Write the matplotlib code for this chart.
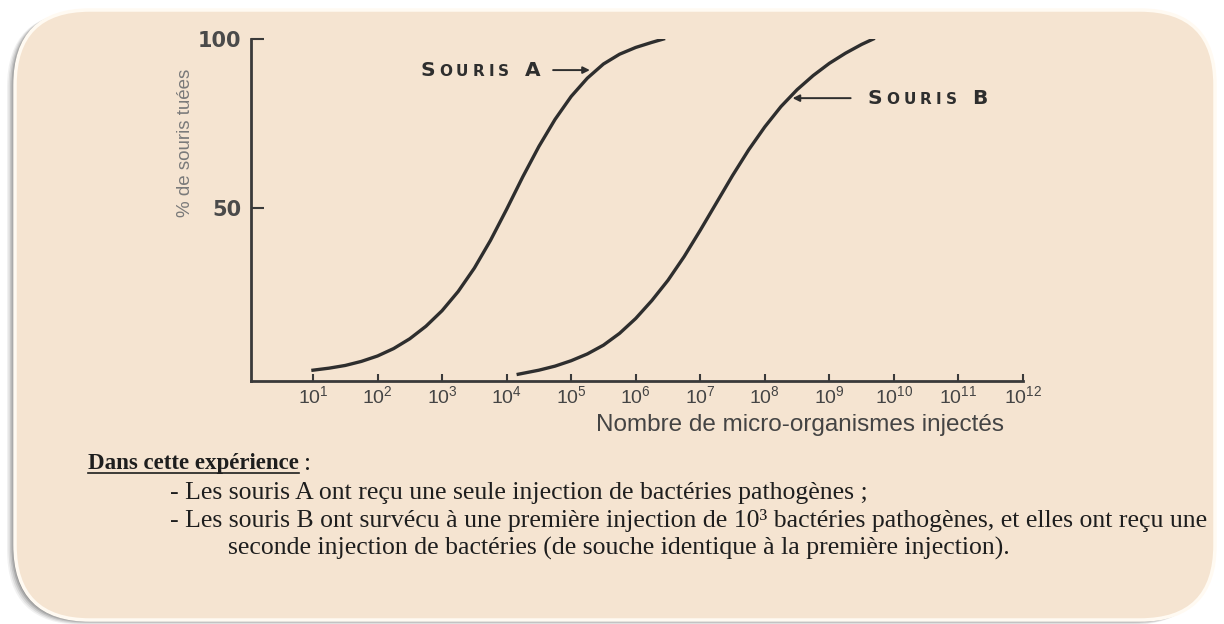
import matplotlib

matplotlib.use("Agg")
import matplotlib.pyplot as plt
import numpy as np
from matplotlib.lines import Line2D
from matplotlib.offsetbox import AnnotationBbox, HPacker, TextArea
from matplotlib.patches import FancyBboxPatch
from matplotlib.ticker import NullLocator
from matplotlib.transforms import IdentityTransform

# values: log10(dose) and % of mice killed
souris_a_log = [1.00, 1.25, 1.50, 1.75, 2.00, 2.25, 2.50, 2.75, 3.00, 3.25, 3.50, 3.75,
                4.00, 4.25, 4.50, 4.75, 5.00, 5.25, 5.50, 5.75, 6.00, 6.25, 6.43]
souris_a_pct = [2.0, 2.6, 3.4, 4.6, 6.2, 8.4, 11.3, 15.0, 19.6, 25.3, 32.2, 40.4,
                49.6, 59.2, 68.2, 76.2, 83.0, 88.4, 92.6, 95.5, 97.5, 99.0, 100.0]
souris_b_log = [4.18, 4.50, 4.75, 5.00, 5.25, 5.50, 5.75, 6.00, 6.25, 6.50, 6.75, 7.00,
                7.25, 7.50, 7.75, 8.00, 8.25, 8.50, 8.75, 9.00, 9.25, 9.50, 9.68]
souris_b_pct = [0.8, 2.0, 3.2, 4.8, 6.8, 9.4, 12.9, 17.3, 22.6, 28.6, 35.6, 43.4,
                51.5, 59.6, 67.2, 74.0, 80.0, 85.0, 89.2, 92.8, 95.8, 98.4, 100.0]
tick_exp = list(range(1, 13))
ytick_vals = [50, 100]

texte_titre = "Dans cette expérience"
texte_lignes = [
    "- Les souris A ont reçu une seule injection de bactéries pathogènes ;",
    "- Les souris B ont survécu à une première injection de 10³ bactéries pathogènes, et elles ont reçu une",
    "seconde injection de bactéries (de souche identique à la première injection).",
]

BG = "#f5e4d1"
INK = "#2e2e2e"
W, H = 1224, 624

fig = plt.figure(figsize=(W / 100, H / 100), dpi=100)
fig.patch.set_facecolor("white")

# rounded panel with a soft shadow (bottom-left)
for k, a in enumerate([0.08, 0.12, 0.17, 0.24, 0.32]):
    d = 8 - k * 1.5
    sh = FancyBboxPatch(
        (15 - d, 4 - d * 0.6), 1200, 610 + d * 0.3,
        boxstyle="round,pad=0,rounding_size=75",
        transform=IdentityTransform(), facecolor="#555555", edgecolor="none", alpha=a,
        zorder=-3,
    )
    fig.patches.append(sh)
panel = FancyBboxPatch(
    (15, 4), 1200, 610, boxstyle="round,pad=0,rounding_size=75",
    transform=IdentityTransform(), facecolor=BG, edgecolor="#fffaf2", linewidth=2.5,
    zorder=-2,
)
fig.patches.append(panel)

# --- chart
ax = fig.add_axes([251 / W, 1 - 381 / H, 772 / W, 342 / H])
ax.set_facecolor("none")
ax.set_xscale("log")
ax.set_xlim(10**0.04, 10**12)
ax.set_ylim(-1.2, 100)

ax.plot(10 ** np.array(souris_a_log), souris_a_pct, color=INK, lw=2.4)
ax.plot(10 ** np.array(souris_b_log), souris_b_pct, color=INK, lw=2.4)

for side in ["top", "right"]:
    ax.spines[side].set_visible(False)
for side in ["left", "bottom"]:
    ax.spines[side].set_color("#3a3a3a")
    ax.spines[side].set_linewidth(2.0)

ax.xaxis.set_minor_locator(NullLocator())
ax.set_xticks([10.0**e for e in tick_exp])
ax.set_xticklabels([f"$\\mathdefault{{10^{{{e}}}}}$" for e in tick_exp])
ax.set_yticks(ytick_vals)
ax.set_yticklabels([str(v) for v in ytick_vals])
ax.tick_params(axis="x", direction="in", length=5, width=1.5, pad=3,
               labelsize=14, labelcolor="#444444", color="#3a3a3a")
ax.tick_params(axis="y", direction="in", length=9, width=1.5, pad=7,
               labelsize=15, labelcolor="#4a4a4a", color="#3a3a3a")
for lab in ax.get_xticklabels():
    lab.set_fontfamily("Liberation Sans")
for lab in ax.get_yticklabels():
    lab.set_fontfamily("DejaVu Sans")
    lab.set_fontweight("bold")

fig.text(186 / W, 1 - 143 / H, "% de souris tuées", rotation=90, ha="center", va="center",
         color="#7a7a7a", fontsize=13.5, family="Liberation Sans")
fig.text(800 / W, 1 - 425 / H, "Nombre de micro-organismes injectés", ha="center", va="center",
         color="#444444", fontsize=17.5, family="Liberation Sans")


def small_caps(word_parts):
    boxes = []
    for ch, big in word_parts:
        boxes.append(TextArea(ch, textprops=dict(fontsize=14.5 if big else 11, fontweight="bold",
                                                 color=INK, family="DejaVu Sans")))
    return HPacker(children=boxes, sep=3, pad=0, align="baseline")


lab_a = small_caps([("S", True), ("O", False), ("U", False), ("R", False), ("I", False),
                    ("S", False), (" ", True), ("A", True)])
lab_b = small_caps([("S", True), ("O", False), ("U", False), ("R", False), ("I", False),
                    ("S", False), (" ", True), ("B", True)])
ax.add_artist(AnnotationBbox(lab_a, (10**4.52, 90.8), box_alignment=(1, 0.5), frameon=False))
ax.add_artist(AnnotationBbox(lab_b, (10**9.59, 82.5), box_alignment=(0, 0.5), frameon=False))

arrow = dict(arrowstyle="-|>", color=INK, lw=1.4, mutation_scale=10, shrinkA=0, shrinkB=0)
ax.annotate("", xy=(10**5.29, 90.8), xytext=(10**4.72, 90.8), arrowprops=arrow)
ax.annotate("", xy=(10**8.43, 82.5), xytext=(10**9.33, 82.5), arrowprops=arrow)

# --- text below the chart
serif = dict(family="Liberation Serif", color="#1e1e1e", fontsize=18.5, va="center")
t0 = fig.text(88 / W, 1 - 464 / H, texte_titre, fontweight="bold",
              **{**serif, "fontsize": 16.5})
fig.text(170 / W, 1 - 493 / H, texte_lignes[0], **serif)
fig.text(170 / W, 1 - 521 / H, texte_lignes[1], **serif)
fig.text(228 / W, 1 - 548 / H, texte_lignes[2], **serif)

renderer = fig.canvas.get_renderer()
bb = t0.get_window_extent(renderer)
fig.add_artist(Line2D([bb.x0, bb.x1], [bb.y0 + 2, bb.y0 + 2], color="#1e1e1e", lw=1.2,
                      transform=IdentityTransform()))
fig.text((bb.x1 + 5) / W, 1 - 464 / H, ":", **serif)

fig.savefig("out.png", dpi=100, facecolor=fig.get_facecolor())
